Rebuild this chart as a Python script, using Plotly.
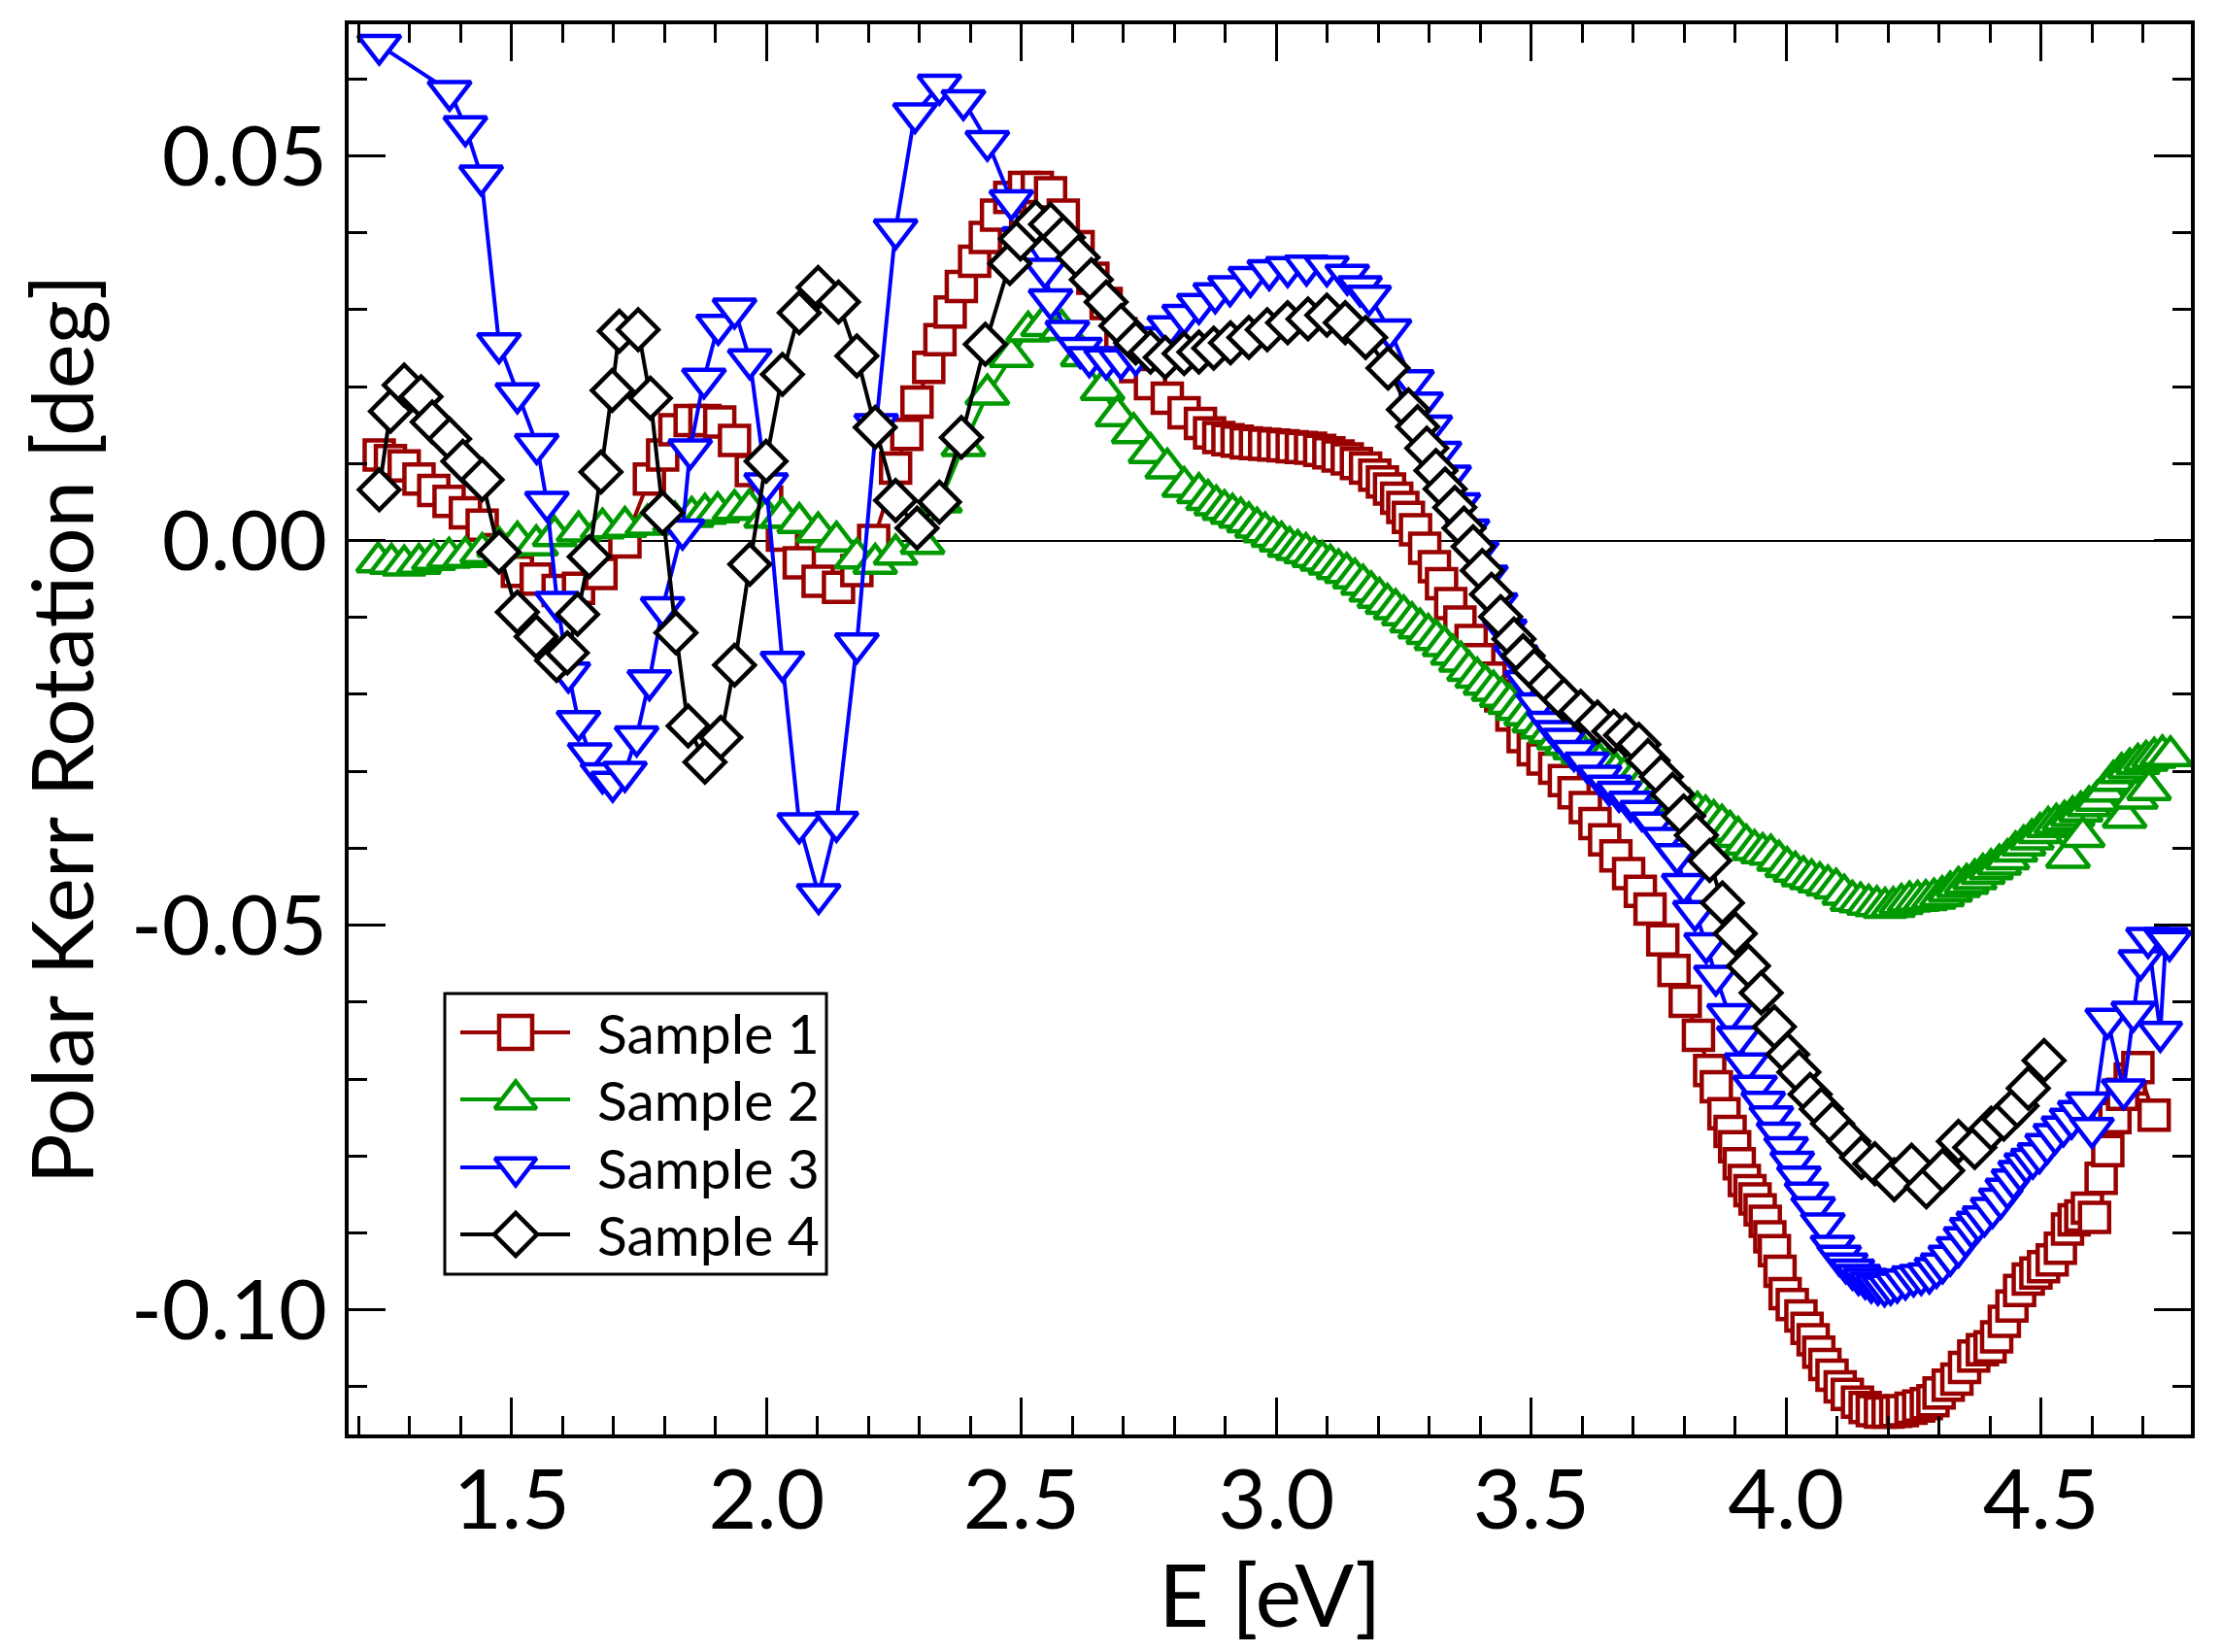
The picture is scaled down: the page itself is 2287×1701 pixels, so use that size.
import plotly.graph_objects as go

# ---------------- data ----------------
s1_x = [1.240, 1.262, 1.289, 1.318, 1.347, 1.377, 1.409, 1.442, 1.475, 1.511, 1.548, 1.591, 1.631, 1.675,
        1.722, 1.770, 1.796, 1.820, 1.850, 1.879, 1.908, 1.937, 1.970, 2.000, 2.031, 2.064, 2.101, 2.141,
        2.177, 2.210, 2.253, 2.275, 2.295, 2.318, 2.340, 2.360, 2.382, 2.408, 2.429, 2.451, 2.477, 2.506,
        2.531, 2.557, 2.582, 2.611, 2.640, 2.666, 2.695, 2.724, 2.753, 2.786, 2.819, 2.851,
        2.869, 2.887, 2.905, 2.923, 2.941, 2.959, 2.977, 2.995, 3.013, 3.031, 3.049, 3.067, 3.085, 3.103,
        3.121, 3.139, 3.157, 3.175, 3.193, 3.208, 3.222, 3.236, 3.248, 3.259, 3.273, 3.291, 3.310, 3.324,
        3.342, 3.360, 3.382, 3.397, 3.419, 3.440, 3.462, 3.484, 3.504, 3.523, 3.546, 3.565, 3.584, 3.606,
        3.625, 3.644, 3.666, 3.691, 3.714, 3.733, 3.758, 3.780, 3.802, 3.828, 3.850, 3.863, 3.878, 3.890,
        3.899, 3.908, 3.918, 3.929, 3.939, 3.949, 3.959, 3.968, 3.977, 3.988, 3.998, 4.012, 4.029, 4.041,
        4.053, 4.064, 4.076, 4.090, 4.106, 4.120, 4.140, 4.155, 4.169, 4.185, 4.200, 4.215, 4.228, 4.245,
        4.260, 4.275, 4.288, 4.300, 4.318, 4.335, 4.350, 4.368, 4.385, 4.400, 4.413, 4.428, 4.443, 4.458,
        4.475, 4.490, 4.505, 4.522, 4.538, 4.552, 4.565, 4.578, 4.591, 4.605, 4.618, 4.631, 4.645, 4.660,
        4.675, 4.690, 4.722]
s1_y = [0.0111, 0.0104, 0.0097, 0.0080, 0.0065, 0.0051, 0.0036, 0.0020, -0.0012, -0.0040, -0.0050, -0.0065,
        -0.0062, -0.0043, -0.0002, 0.0080, 0.0111, 0.0144, 0.0156, 0.0156, 0.0154, 0.0130, 0.0091, 0.0050,
        0.0007, -0.0029, -0.0053, -0.0061, -0.0039, 0.0000, 0.0094, 0.0138, 0.0180, 0.0225, 0.0261, 0.0297,
        0.0330, 0.0363, 0.0394, 0.0423, 0.0446, 0.0459, 0.0459, 0.0452, 0.0423, 0.0382, 0.0341, 0.0308,
        0.0269, 0.0226, 0.0204, 0.0185, 0.0166, 0.0152,
        0.0140, 0.0134, 0.0131, 0.0129, 0.0127, 0.0126, 0.0125, 0.0124, 0.0123, 0.0122, 0.0121, 0.0120,
        0.0117, 0.0114, 0.0110, 0.0106, 0.0100, 0.0094, 0.0085, 0.0076, 0.0067, 0.0055, 0.0043, 0.0030,
        0.0014, -0.0010, -0.0034, -0.0056, -0.0082, -0.0106, -0.0130, -0.0155, -0.0179, -0.0202, -0.0227,
        -0.0255, -0.0272, -0.0284, -0.0296, -0.0312, -0.0328, -0.0347, -0.0368, -0.0389, -0.0410, -0.0433,
        -0.0456, -0.0479, -0.0519, -0.0559, -0.0599, -0.0643, -0.0689, -0.0710, -0.0745, -0.0768, -0.0788,
        -0.0810, -0.0832, -0.0845, -0.0856, -0.0870, -0.0885, -0.0905, -0.0923, -0.0950, -0.0979, -0.0993,
        -0.1008, -0.1024, -0.1039, -0.1055, -0.1071, -0.1085, -0.1100, -0.1110, -0.1120, -0.1127, -0.1131,
        -0.1133, -0.1133, -0.1132, -0.1131, -0.1128, -0.1125, -0.1122, -0.1118, -0.1108, -0.1098, -0.1090,
        -0.1075, -0.1060, -0.1052, -0.1048, -0.1035, -0.1015, -0.0995, -0.0975, -0.0960, -0.0952, -0.0944,
        -0.0935, -0.0920, -0.0895, -0.0883, -0.0878, -0.0868, -0.0880, -0.0829, -0.0793, -0.0750, -0.0720,
        -0.0700, -0.0685, -0.0747]

s2_x = [1.238, 1.264, 1.289, 1.318, 1.347, 1.377, 1.409, 1.442, 1.475, 1.511, 1.548, 1.584, 1.631, 1.678,
        1.722, 1.766, 1.820, 1.853, 1.879, 1.904, 1.937, 1.966, 1.999, 2.031, 2.064, 2.101, 2.137, 2.177,
        2.213, 2.253, 2.306, 2.340, 2.386, 2.433, 2.480, 2.513, 2.542, 2.579, 2.620, 2.659, 2.688, 2.720,
        2.753, 2.786, 2.819, 2.848,
        2.866, 2.882, 2.898, 2.914, 2.930, 2.946, 2.962, 2.978, 2.994, 3.010, 3.026, 3.042, 3.058, 3.074,
        3.090, 3.106, 3.122, 3.138, 3.154, 3.170, 3.186, 3.202, 3.218, 3.234, 3.250, 3.266, 3.282, 3.298,
        3.314, 3.330, 3.346, 3.362, 3.378, 3.394, 3.410, 3.426, 3.442, 3.458, 3.474, 3.490, 3.506, 3.522,
        3.538, 3.554, 3.570, 3.586, 3.602, 3.618, 3.634, 3.650, 3.666, 3.682, 3.698, 3.714, 3.730, 3.746,
        3.762, 3.778, 3.794, 3.810, 3.826, 3.842, 3.858, 3.874, 3.890, 3.906, 3.922, 3.938, 3.954, 3.970,
        3.986, 4.002, 4.018, 4.034, 4.050, 4.066, 4.082, 4.098, 4.114, 4.130, 4.146, 4.162, 4.178, 4.194,
        4.210, 4.226, 4.242, 4.258, 4.274, 4.290, 4.306, 4.322, 4.338, 4.354, 4.370, 4.386, 4.402, 4.418,
        4.434, 4.450, 4.466, 4.482, 4.498, 4.514, 4.530, 4.546, 4.553, 4.562, 4.578, 4.582, 4.594, 4.610,
        4.626, 4.642, 4.658, 4.664, 4.674, 4.686, 4.690, 4.706, 4.712, 4.722, 4.738, 4.754]
s2_y = [-0.0028, -0.0030, -0.0032, -0.0030, -0.0025, -0.0022, -0.0021, -0.0016, -0.0008, -0.0001, -0.0006,
        0.0006, 0.0012, 0.0016, 0.0018, 0.0021, 0.0025, 0.0031, 0.0035, 0.0037, 0.0040, 0.0041, 0.0030,
        0.0030, 0.0023, 0.0011, -0.0001, -0.0023, -0.0030, -0.0018, -0.0004, 0.0050, 0.0123, 0.0190, 0.0239,
        0.0272, 0.0279, 0.0274, 0.0240, 0.0196, 0.0162, 0.0140, 0.0114, 0.0094, 0.0070, 0.0062,
        0.0053, 0.0046, 0.0040, 0.0035, 0.0030, 0.0024, 0.0017, 0.0011, 0.0005, -0.0001, -0.0008, -0.0012,
        -0.0016, -0.0021, -0.0026, -0.0031, -0.0037, -0.0042, -0.0049, -0.0057, -0.0066, -0.0074, -0.0082,
        -0.0089, -0.0097, -0.0106, -0.0114, -0.0121, -0.0129, -0.0137, -0.0148, -0.0157, -0.0169, -0.0178,
        -0.0187, -0.0195, -0.0203, -0.0212, -0.0220, -0.0227, -0.0236, -0.0244, -0.0250, -0.0258, -0.0265,
        -0.0271, -0.0277, -0.0283, -0.0289, -0.0295, -0.0301, -0.0307, -0.0313, -0.0320, -0.0326, -0.0331,
        -0.0336, -0.0340, -0.0344, -0.0348, -0.0352, -0.0357, -0.0363, -0.0369, -0.0377, -0.0385, -0.0395,
        -0.0402, -0.0406, -0.0408, -0.0416, -0.0424, -0.0430, -0.0436, -0.0440, -0.0444, -0.0448, -0.0452,
        -0.0460, -0.0468, -0.0470, -0.0473, -0.0475, -0.0477, -0.0476, -0.0472, -0.0469, -0.0468, -0.0467,
        -0.0465, -0.0462, -0.0456, -0.0450, -0.0446, -0.0440, -0.0433, -0.0427, -0.0421, -0.0414, -0.0404,
        -0.0396, -0.0388, -0.0380, -0.0372, -0.0368, -0.0364, -0.0412, -0.0358, -0.0352, -0.0385, -0.0345,
        -0.0338, -0.0326, -0.0312, -0.0302, -0.0360, -0.0296, -0.0335, -0.0290, -0.0286, -0.0324, -0.0282,
        -0.0279, -0.0280]

s3_x = [1.240, 1.378, 1.409, 1.440, 1.475, 1.511, 1.549, 1.569, 1.589, 1.611, 1.631, 1.653, 1.678, 1.698,
        1.722, 1.745, 1.770, 1.796, 1.835, 1.850, 1.877, 1.905, 1.937, 1.967, 1.999, 2.031, 2.064, 2.102,
        2.137, 2.177, 2.215, 2.253, 2.291, 2.339, 2.386, 2.433, 2.480, 2.505, 2.546, 2.557, 2.590, 2.615,
        2.633, 2.666, 2.695, 2.724, 2.768, 2.790, 2.819, 2.848, 2.880, 2.909, 2.949, 2.986, 3.022, 3.059,
        3.099, 3.139, 3.164, 3.182, 3.222, 3.266, 3.284, 3.302, 3.320, 3.339, 3.357, 3.375, 3.393, 3.411,
        3.430, 3.448, 3.470, 3.491, 3.513, 3.535, 3.550, 3.565, 3.584, 3.609, 3.634, 3.653, 3.672, 3.695,
        3.717, 3.739, 3.761, 3.786, 3.799, 3.821, 3.843, 3.862, 3.888, 3.907, 3.922, 3.939, 3.955, 3.971,
        3.985, 4.000, 4.012, 4.025, 4.040, 4.053, 4.072, 4.091, 4.104, 4.117, 4.130, 4.142, 4.155, 4.167,
        4.180, 4.193, 4.205, 4.218, 4.234, 4.250, 4.265, 4.281, 4.295, 4.307, 4.322, 4.338, 4.352, 4.364,
        4.377, 4.389, 4.405, 4.421, 4.434, 4.446, 4.459, 4.471, 4.484, 4.497, 4.512, 4.528, 4.544, 4.560,
        4.576, 4.592, 4.600, 4.630, 4.662, 4.681, 4.695, 4.710, 4.734, 4.745, 4.752]
s3_y = [0.0644, 0.0584, 0.0538, 0.0474, 0.0256, 0.0191, 0.0125, 0.0050, -0.0080, -0.0172, -0.0235, -0.0277,
        -0.0303, -0.0314, -0.0301, -0.0255, -0.0182, -0.0087, 0.0014, 0.0118, 0.0210, 0.0280, 0.0301, 0.0235,
        0.0074, -0.0158, -0.0368, -0.0460, -0.0366, -0.0134, 0.0151, 0.0404, 0.0555, 0.0592, 0.0572, 0.0519,
        0.0442, 0.0394, 0.0353, 0.0313, 0.0272, 0.0250, 0.0238, 0.0235, 0.0235, 0.0240, 0.0264, 0.0278,
        0.0293, 0.0307, 0.0321, 0.0330, 0.0342, 0.0351, 0.0355, 0.0357, 0.0356, 0.0345, 0.0330, 0.0318,
        0.0274, 0.0208, 0.0179, 0.0149, 0.0115, 0.0084, 0.0048, 0.0014, -0.0015, -0.0046, -0.0082, -0.0116,
        -0.0150, -0.0183, -0.0212, -0.0236, -0.0248, -0.0258, -0.0274, -0.0289, -0.0306, -0.0319, -0.0327,
        -0.0340, -0.0352, -0.0367, -0.0387, -0.0408, -0.0447, -0.0482, -0.0524, -0.0566, -0.0616, -0.0645,
        -0.0680, -0.0709, -0.0730, -0.0749, -0.0770, -0.0789, -0.0808, -0.0827, -0.0848, -0.0867, -0.0888,
        -0.0917, -0.0930, -0.0940, -0.0948, -0.0955, -0.0960, -0.0965, -0.0968, -0.0970, -0.0968, -0.0965,
        -0.0961, -0.0957, -0.0955, -0.0953, -0.0946, -0.0940, -0.0930, -0.0919, -0.0906, -0.0894, -0.0886,
        -0.0879, -0.0868, -0.0856, -0.0843, -0.0831, -0.0820, -0.0810, -0.0804, -0.0797, -0.0785, -0.0772,
        -0.0762, -0.0752, -0.0742, -0.0731, -0.0764, -0.0622, -0.0714, -0.0613, -0.0546, -0.0517, -0.0639,
        -0.0517, -0.0521]

s4_x = [1.240, 1.262, 1.289, 1.322, 1.344, 1.378, 1.404, 1.442, 1.475, 1.511, 1.548, 1.588, 1.609, 1.629,
        1.652, 1.675, 1.697, 1.711, 1.748, 1.772, 1.796, 1.822, 1.846, 1.879, 1.910, 1.937, 1.967, 1.999,
        2.031, 2.064, 2.101, 2.141, 2.177, 2.213, 2.253, 2.295, 2.339, 2.382, 2.429, 2.477, 2.498, 2.528,
        2.557, 2.582, 2.611, 2.637, 2.666, 2.695, 2.724, 2.753, 2.782, 2.819, 2.848, 2.877, 2.910, 2.946,
        2.982, 3.022, 3.062, 3.099, 3.135, 3.175, 3.219, 3.259, 3.277, 3.295, 3.313, 3.331, 3.350, 3.368,
        3.386, 3.404, 3.422, 3.440, 3.466, 3.484, 3.506, 3.535, 3.564, 3.597, 3.630, 3.662, 3.685, 3.711,
        3.729, 3.755, 3.777, 3.799, 3.824, 3.850, 3.875, 3.900, 3.926, 3.951, 3.977, 4.003, 4.025, 4.047,
        4.069, 4.091, 4.123, 4.148, 4.174, 4.212, 4.246, 4.275, 4.307, 4.338, 4.370, 4.402, 4.427, 4.453,
        4.475, 4.506]
s4_y = [0.0066, 0.0168, 0.0202, 0.0187, 0.0154, 0.0132, 0.0103, 0.0079, -0.0015, -0.0093, -0.0125, -0.0156,
        -0.0146, -0.0096, -0.0021, 0.0089, 0.0195, 0.0272, 0.0274, 0.0185, 0.0036, -0.0120, -0.0241, -0.0288,
        -0.0256, -0.0162, -0.0031, 0.0103, 0.0216, 0.0296, 0.0329, 0.0310, 0.0240, 0.0147, 0.0052, 0.0016,
        0.0050, 0.0134, 0.0255, 0.0360, 0.0392, 0.0414, 0.0411, 0.0394, 0.0368, 0.0339, 0.0310, 0.0279,
        0.0257, 0.0245, 0.0238, 0.0243, 0.0245, 0.0250, 0.0257, 0.0264, 0.0274, 0.0283, 0.0288, 0.0293,
        0.0283, 0.0264, 0.0224, 0.0170, 0.0148, 0.0120, 0.0091, 0.0067, 0.0043, 0.0016, -0.0008, -0.0039,
        -0.0070, -0.0099, -0.0128, -0.0150, -0.0169, -0.0188, -0.0207, -0.0222, -0.0236, -0.0248, -0.0253,
        -0.0265, -0.0286, -0.0307, -0.0330, -0.0358, -0.0383, -0.0416, -0.0471, -0.0511, -0.0553, -0.0588,
        -0.0632, -0.0668, -0.0691, -0.0720, -0.0739, -0.0758, -0.0781, -0.0802, -0.0810, -0.0831, -0.0812,
        -0.0840, -0.0819, -0.0781, -0.0789, -0.0764, -0.0752, -0.0735, -0.0712, -0.0676]

names = ["Sample 1", "Sample 2", "Sample 3", "Sample 4"]
colors = ["#990000", "#009900", "#0000FF", "#000000"]
symbols = ["square", "triangle-up", "triangle-down", "diamond"]
x_tickvals = [1.5, 2.0, 2.5, 3.0, 3.5, 4.0, 4.5]
x_ticktext = ["1.5", "2.0", "2.5", "3.0", "3.5", "4.0", "4.5"]
y_tickvals = [-0.10, -0.05, 0.00, 0.05]
y_ticktext = ["-0.10", "-0.05", "0.00", "0.05"]
x_title = "E [eV]"
y_title = "Polar Kerr Rotation [deg]"

# ---------------- styling ----------------
FONT = "Lato"
W, H = 2287, 1701
ML, MR, MT, MB = 359, 31, 25, 224
PH = H - MT - MB
data_size = {"square": 30, "triangle-up": 38, "triangle-down": 38, "diamond": 32}
legend_size = {"square": 34, "triangle-up": 37, "triangle-down": 37, "diamond": 34}

def py(real_y):
    """page pixel row -> paper y"""
    return (H - MB - real_y) / PH

def px(real_x):
    return (real_x - ML) / (W - ML - MR)

fig = go.Figure()
series = [(s1_x, s1_y), (s2_x, s2_y), (s3_x, s3_y), (s4_x, s4_y)]
for (xs, ys), nm, c, sym in zip(series, names, colors, symbols):
    fig.add_trace(go.Scatter(
        x=xs, y=ys, name=nm, mode="lines+markers", showlegend=False,
        line=dict(color=c, width=4),
        marker=dict(symbol=sym, size=data_size[sym], color="white", line=dict(color=c, width=4.5)),
    ))

# legend drawn on an overlay [0,1] axis pair so its symbols keep the reference's size
leg_rows = [py(1063), py(1132), py(1202), py(1271)]
for nm, c, sym, ry in zip(names, colors, symbols, leg_rows):
    fig.add_trace(go.Scatter(x=[px(474), px(587)], y=[ry, ry], mode="lines", xaxis="x2", yaxis="y2",
                             showlegend=False, hoverinfo="skip", line=dict(color=c, width=4)))
    fig.add_trace(go.Scatter(x=[px(531)], y=[ry], mode="markers", xaxis="x2", yaxis="y2",
                             showlegend=False, hoverinfo="skip",
                             marker=dict(symbol=sym, size=legend_size[sym], color="white",
                                         line=dict(color=c, width=4.5))))
    fig.add_annotation(x=px(613), y=ry, xref="paper", yref="paper", text=nm, showarrow=False,
                       xanchor="left", yanchor="middle", font=dict(family=FONT, size=57, color="black"))

fig.add_shape(type="rect", xref="paper", yref="paper", x0=px(458), x1=px(851), y0=py(1312), y1=py(1023),
              line=dict(color="black", width=3), fillcolor="rgba(0,0,0,0)")

# x-axis title placed as in the reference
fig.add_annotation(x=0.5, y=py(1640), xref="paper", yref="paper", text=x_title, showarrow=False,
                   xanchor="center", yanchor="middle", font=dict(family=FONT, size=90, color="black"))

axis_common = dict(showline=True, linecolor="black", linewidth=4, mirror="ticks", automargin=False,
                   ticks="inside", ticklen=38, tickwidth=3, tickcolor="black",
                   showgrid=False, tickfont=dict(family=FONT, size=86, color="black"))

fig.update_layout(
    width=W, height=H,
    margin=dict(l=ML, r=MR, t=MT, b=MB, pad=0),
    paper_bgcolor="white", plot_bgcolor="white",
    font=dict(family=FONT, color="black"),
    xaxis=dict(range=[1.18, 4.794], tickvals=x_tickvals, ticktext=x_ticktext,
               zeroline=False, ticklabelstandoff=-10,
               minor=dict(dtick=0.1, tick0=0, ticks="inside", ticklen=19, tickwidth=3, tickcolor="black"),
               **axis_common),
    yaxis=dict(range=[-0.1162, 0.0671], tickvals=y_tickvals, ticktext=y_ticktext,
               zeroline=True, zerolinecolor="black", zerolinewidth=2, ticklabelstandoff=1,
               minor=dict(dtick=0.01, tick0=0, ticks="inside", ticklen=19, tickwidth=3, tickcolor="black"),
               title=dict(text=y_title, font=dict(family=FONT, size=87), standoff=10),
               **axis_common),
    xaxis2=dict(overlaying="x", anchor="y2", range=[0, 1], visible=False, fixedrange=True),
    yaxis2=dict(overlaying="y", anchor="x2", range=[0, 1], visible=False, fixedrange=True),
)

fig.write_html("out.html", config={"displayModeBar": False},
               post_script="document.body.style.margin='0px';")
